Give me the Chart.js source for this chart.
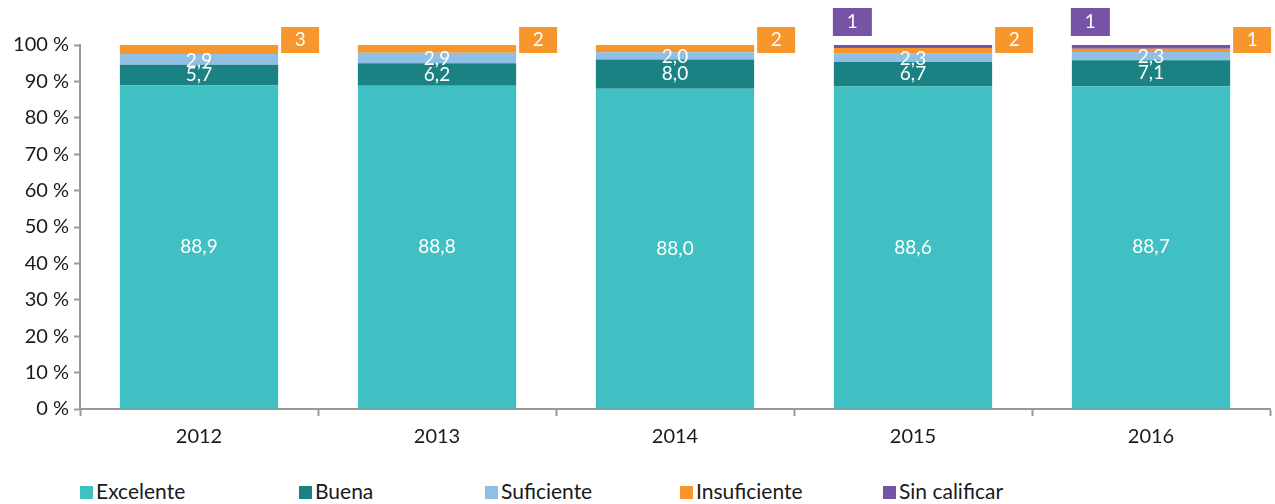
<!DOCTYPE html>
<html>
<head>
<meta charset="utf-8">
<script src="https://cdn.jsdelivr.net/npm/chart.js@4.4.1/dist/chart.umd.min.js"></script>
<style>
  html, body { margin: 0; padding: 0; background: #fff; overflow: hidden; }
  #wrap { position: relative; width: 1275px; height: 504px; }
  #grafico { position: absolute; left: 0; top: 0; }
  #leyenda { position: absolute; left: 0; top: 478px; width: 1275px; height: 30px;
             font-family: Lato, "Open Sans", sans-serif; font-size: 21px; color: #1a1a1a; }
  .item { position: absolute; top: 0; line-height: 26px; white-space: nowrap; }
  .item span.caja { display: inline-block; width: 13px; height: 13px; margin-right: 3px; vertical-align: 0px; }
</style>
</head>
<body>
<div id="wrap">
  <canvas id="grafico" width="1275" height="455"></canvas>
  <div id="leyenda"></div>
</div>
<script>
// datos del gráfico (%)
const anios = ['2012', '2013', '2014', '2015', '2016'];
const excelente    = [88.9, 88.8, 88.0, 88.6, 88.7];
const buena        = [5.7, 6.2, 8.0, 6.7, 7.1];
const suficiente   = [2.9, 2.9, 2.0, 2.3, 2.3];
const insuficiente = [2.5, 2.1, 2.0, 1.6, 0.9];
const sinCalificar = [0, 0, 0, 0.8, 1.0];
const ticksY = [0, 10, 20, 30, 40, 50, 60, 70, 80, 90, 100];

const series = [
  { label: 'Excelente', data: excelente, color: '#40c0c2' },
  { label: 'Buena', data: buena, color: '#1a8282' },
  { label: 'Suficiente', data: suficiente, color: '#8fbfe5' },
  { label: 'Insuficiente', data: insuficiente, color: '#f7962d' },
  { label: 'Sin calificar', data: sinCalificar, color: '#7654a5' }
];

const FUENTE = 'Lato, "Open Sans", sans-serif';
const fmt = v => v.toFixed(1).replace('.', ',');

// etiquetas dentro de las barras y cajas de insuficiente / sin calificar
const etiquetas = {
  id: 'etiquetas',
  afterDatasetsDraw(chart) {
    const ctx = chart.ctx;
    ctx.save();
    ctx.textAlign = 'center';
    ctx.textBaseline = 'middle';
    ctx.font = '19px ' + FUENTE;
    ctx.fillStyle = '#fff';
    [0, 1, 2].forEach(di => {
      chart.getDatasetMeta(di).data.forEach((bar, i) => {
        const cy = (bar.y + bar.base) / 2;
        ctx.fillText(fmt(series[di].data[i]), bar.x, cy + (di === 2 ? 1 : 0));
      });
    });

    const yTop = chart.scales.y.getPixelForValue(100);
    ctx.font = '19px ' + FUENTE;
    // insuficiente: caja a la derecha de la barra
    chart.getDatasetMeta(3).data.forEach((bar, i) => {
      if (!insuficiente[i]) return;
      const x0 = bar.x + bar.width / 2 + 3;
      const y0 = yTop - 18;
      ctx.fillStyle = series[3].color;
      ctx.fillRect(x0, y0, 38, 26);
      ctx.fillStyle = '#fff';
      ctx.fillText(String(Math.round(insuficiente[i])), x0 + 19, y0 + 13);
    });
    // sin calificar: caja sobre la barra
    chart.getDatasetMeta(4).data.forEach((bar, i) => {
      if (!sinCalificar[i]) return;
      const x0 = bar.x - bar.width / 2 - 1;
      const y0 = yTop - 37;
      ctx.fillStyle = series[4].color;
      ctx.fillRect(x0, y0, 39, 28);
      ctx.fillStyle = '#fff';
      ctx.fillText(String(Math.round(sinCalificar[i])), x0 + 19.5, y0 + 14);
    });
    ctx.restore();
  }
};

new Chart(document.getElementById('grafico'), {
  type: 'bar',
  data: {
    labels: anios,
    datasets: series.map(s => ({
      label: s.label,
      data: s.data,
      backgroundColor: s.color,
      borderWidth: 0,
      barPercentage: 0.665,
      categoryPercentage: 1
    }))
  },
  options: {
    responsive: false,
    animation: false,
    layout: { padding: { top: 45, right: 5, left: 0, bottom: 0 } },
    plugins: { legend: { display: false }, tooltip: { enabled: false } },
    scales: {
      x: {
        stacked: true,
        offset: true,
        grid: { offset: true, drawOnChartArea: false, color: '#999', tickLength: 7, tickWidth: 2 },
        border: { color: '#999', width: 2 },
        ticks: { color: '#1a1a1a', font: { family: FUENTE, size: 20 }, padding: 9 },
        afterFit(scale) { scale.height = 46; }
      },
      y: {
        stacked: true,
        min: 0,
        max: 100,
        afterBuildTicks(scale) { scale.ticks = ticksY.map(v => ({ value: v })); },
        grid: { drawOnChartArea: false, color: '#999', tickLength: 6, tickWidth: 2 },
        border: { color: '#999', width: 2 },
        ticks: {
          color: '#1a1a1a',
          font: { family: FUENTE, size: 20 },
          padding: 5,
          callback: v => v + ' %'
        },
        afterFit(scale) { scale.width = 80; }
      }
    }
  },
  plugins: [etiquetas]
});

// leyenda html
const posLeyenda = [80, 299, 485, 680, 883];
const ley = document.getElementById('leyenda');
series.forEach((s, i) => {
  const d = document.createElement('div');
  d.className = 'item';
  d.style.left = posLeyenda[i] + 'px';
  d.innerHTML = '<span class="caja" style="background:' + s.color + '"></span>' + s.label;
  ley.appendChild(d);
});
</script>
</body>
</html>
